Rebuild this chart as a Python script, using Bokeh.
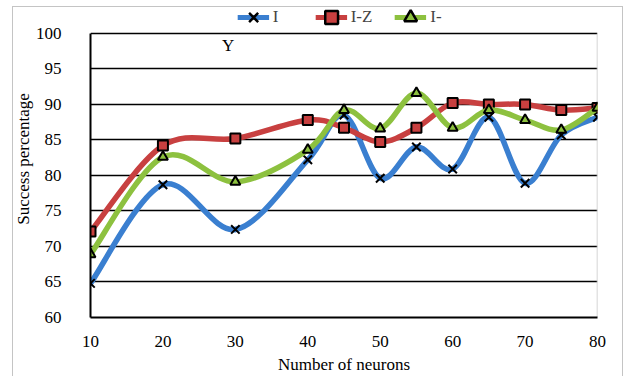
import numpy as np
from bokeh.plotting import figure
from bokeh.models import Legend, LegendItem, ColumnDataSource, Label, FixedTicker, Range1d
from bokeh.embed import file_html
from bokeh.resources import INLINE

# ---- data ----
neurons = [10, 20, 30, 40, 45, 50, 55, 60, 65, 70, 75, 80]
series_I = [64.8, 78.7, 72.4, 82.2, 88.5, 79.6, 84.0, 80.9, 88.2, 78.9, 85.7, 88.2]
series_IZ = [72.1, 84.2, 85.2, 87.8, 86.7, 84.7, 86.7, 90.2, 90.0, 90.0, 89.2, 89.5]
series_Im = [68.9, 82.6, 79.1, 83.6, 89.2, 86.6, 91.6, 86.7, 89.2, 87.8, 86.4, 89.5]
names = ["I", "I-Z", "I-"]
x_ticks = [10, 20, 30, 40, 50, 60, 70, 80]
y_ticks = [60, 65, 70, 75, 80, 85, 90, 95, 100]

colors = ["#3a7fd0", "#c84040", "#8dc13f"]
markers = ["x", "square", "triangle"]

FONT = "Liberation Serif"
X_MIN, X_MAX = 10, 80
Y_MIN, Y_MAX = 60, 100


def smooth_source(xs, ys):
    """Excel-like smoothed line: Bezier segments through every data point."""
    x = np.asarray(xs, float)
    y = np.asarray(ys, float)
    px = np.concatenate([[x[0]], x, [x[-1]]])
    py = np.concatenate([[y[0]], y, [y[-1]]])
    n = len(x)
    d = dict(x0=[], y0=[], x1=[], y1=[], cx0=[], cy0=[], cx1=[], cy1=[])
    for i in range(n - 1):
        p0x, p0y = px[i], py[i]
        p1x, p1y = px[i + 1], py[i + 1]
        p2x, p2y = px[i + 2], py[i + 2]
        p3x, p3y = px[i + 3], py[i + 3]
        d["x0"].append(p1x); d["y0"].append(p1y)
        d["x1"].append(p2x); d["y1"].append(p2y)
        d["cx0"].append(p1x + (p2x - p0x) / 6.0)
        d["cy0"].append(p1y + (p2y - p0y) / 6.0)
        d["cx1"].append(p2x - (p3x - p1x) / 6.0)
        d["cy1"].append(p2y - (p3y - p1y) / 6.0)
    return ColumnDataSource(d)


W, H = 627, 376
# the frame extends above 100 up to the top edge so the legend can sit inside it
p = figure(width=W, height=H, output_backend="svg", toolbar_location=None,
           x_range=Range1d(X_MIN, X_MAX), y_range=Range1d(Y_MIN, Y_MAX + 4.63),
           min_border_left=90, min_border_right=30, min_border_top=0, min_border_bottom=58)
p.background_fill_alpha = 0
p.border_fill_alpha = 0
g = "linear-gradient(#c4c4c4, #c4c4c4)"
p.styles = {
    "background": (f"{g} 12px 6px / 1px 400px no-repeat, "
                   f"{g} 12px 6px / 611px 1px no-repeat, "
                   f"{g} 622px 6px / 1px 400px no-repeat, white"),
}
p.outline_line_color = None

p.xgrid.grid_line_color = None
p.ygrid.grid_line_color = "black"
p.ygrid.grid_line_width = 1.6
p.xaxis.ticker = FixedTicker(ticks=x_ticks)
p.yaxis.ticker = FixedTicker(ticks=y_ticks)
p.yaxis.bounds = (Y_MIN, Y_MAX)

for ax in (p.xaxis[0], p.yaxis[0]):
    ax.axis_line_color = "black"
    ax.axis_line_width = 2
    ax.major_tick_line_color = None
    ax.minor_tick_line_color = None
    ax.major_label_text_font = FONT
    ax.major_label_text_font_size = "17px"
    ax.major_label_text_color = "black"
    ax.axis_label_text_font = FONT
    ax.axis_label_text_font_size = "17px"
    ax.axis_label_text_font_style = "normal"
    ax.axis_label_text_color = "black"

p.xaxis.axis_label = "Number of neurons"
p.yaxis.axis_label = "Success percentage"
p.xaxis.major_label_standoff = 12
p.xaxis.axis_label_standoff = 5
p.yaxis.major_label_standoff = 23
p.yaxis.axis_label_standoff = 0

# light right border of the plot area (from 60 to 100 only)
p.segment(x0=[X_MAX], y0=[Y_MIN], x1=[X_MAX], y1=[Y_MAX], line_color="#c8c8c8", line_width=1.5)

all_series = [series_I, series_IZ, series_Im]
for ys, c, m in zip(all_series, colors, markers):
    src = smooth_source(neurons, ys)
    p.bezier(x0="x0", y0="y0", x1="x1", y1="y1", cx0="cx0", cy0="cy0", cx1="cx1", cy1="cy1",
             source=src, line_color=c, line_width=5.5, line_cap="round")
    if m == "x":
        p.scatter(neurons, ys, marker="x", size=12, line_color="black", line_width=2)
    else:
        p.scatter(neurons, ys, marker=m, size=10, fill_color=c, line_color="black", line_width=2)

p.add_layout(Label(x=29, y=98.3, text="Y", text_font=FONT, text_font_size="17px",
                   text_align="center", text_baseline="middle", text_color="black"))

# legend proxies (a single NaN row each: nothing is drawn in the plot)
items = []
for name, c, m in zip(names, colors, markers):
    lr = p.line(x=[np.nan], y=[np.nan], line_color=c, line_width=5)
    if m == "x":
        sr = p.scatter(x=[np.nan], y=[np.nan], marker="x", size=16, line_color="black", line_width=2.5)
    else:
        sr = p.scatter(x=[np.nan], y=[np.nan], marker=m, size=15, fill_color=c,
                       line_color="black", line_width=2.5)
    items.append(LegendItem(label=name, renderers=[lr, sr], index=0))

legend = Legend(items=items, orientation="horizontal", location="top_center",
                padding=0, margin=0, spacing=22, label_standoff=4,
                glyph_width=32, glyph_height=34, label_height=34,
                label_text_font=FONT, label_text_font_size="17px",
                background_fill_alpha=0, border_line_color=None)
p.add_layout(legend, "center")

open("out.html", "w").write(file_html(p, INLINE))
